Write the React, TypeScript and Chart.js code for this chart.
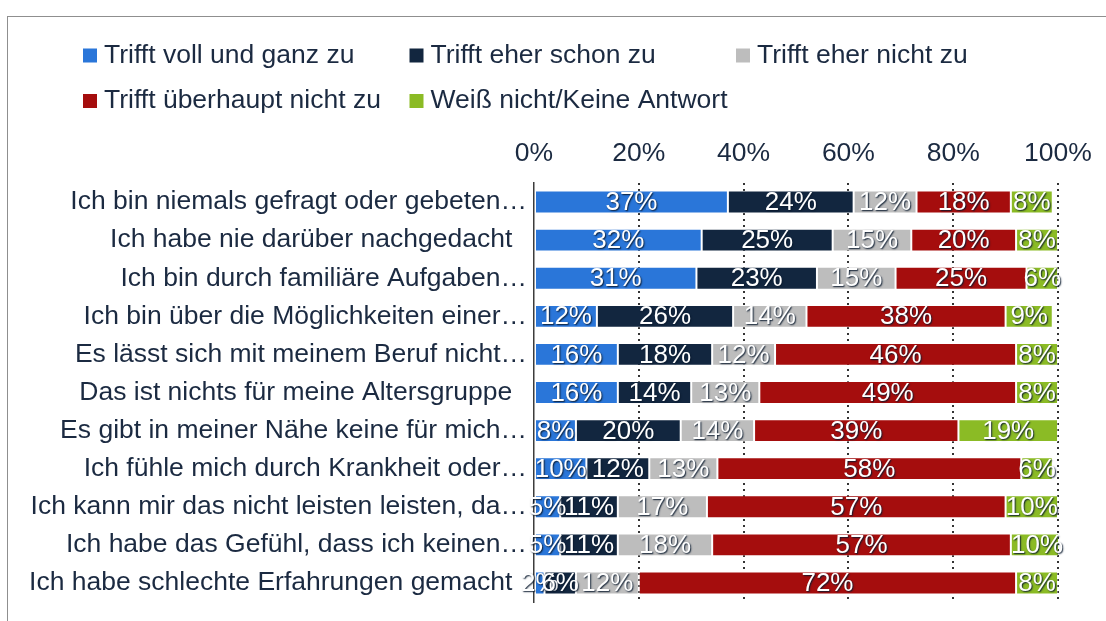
import React, { useEffect, useRef } from 'react';
import { Chart, registerables } from 'chart.js';

Chart.register(...registerables);

const categories = [
  'Ich bin niemals gefragt oder gebeten…',
  'Ich habe nie darüber nachgedacht\u00a0\u00a0',
  'Ich bin durch familiäre Aufgaben…',
  'Ich bin über die Möglichkeiten einer…',
  'Es lässt sich mit meinem Beruf nicht…',
  'Das ist nichts für meine Altersgruppe\u00a0\u00a0',
  'Es gibt in meiner Nähe keine für mich…',
  'Ich fühle mich durch Krankheit oder…',
  'Ich kann mir das nicht leisten leisten, da…',
  'Ich habe das Gefühl, dass ich keinen…',
  'Ich habe schlechte Erfahrungen gemacht\u00a0\u00a0',
];

const seriesNames = [
  'Trifft voll und ganz zu',
  'Trifft eher schon zu',
  'Trifft eher nicht zu',
  'Trifft überhaupt nicht zu',
  'Weiß nicht/Keine Antwort',
];

const fullyAgree = [37, 32, 31, 12, 16, 16, 8, 10, 5, 5, 2];
const ratherAgree = [24, 25, 23, 26, 18, 14, 20, 12, 11, 11, 6];
const ratherDisagree = [12, 15, 15, 14, 12, 13, 14, 13, 17, 18, 12];
const stronglyDisagree = [18, 20, 25, 38, 46, 49, 39, 58, 57, 57, 72];
const dontKnow = [8, 8, 6, 9, 8, 8, 19, 6, 10, 10, 8];

const xTickValues = [0, 20, 40, 60, 80, 100];

const seriesColors = ['#2A76D9', '#12263F', '#BDBDBD', '#A50D0D', '#8BBB25'];

const FONT = '"Liberation Sans", Arial, sans-serif';
const TEXT_COLOR = '#1B2A41';

const gridLegendPlugin = {
  id: 'gridLegend',
  afterDraw(chart: any, _args: any, opts: any) {
    const { ctx } = chart;
    ctx.save();
    ctx.font = `${opts.fontSize}px ${FONT}`;
    ctx.textBaseline = 'middle';
    ctx.textAlign = 'left';
    chart.data.datasets.forEach((ds: any, i: number) => {
      const col = i % opts.columns;
      const row = Math.floor(i / opts.columns);
      const x = opts.left + col * opts.colWidth;
      const y = opts.top + row * opts.rowHeight;
      ctx.fillStyle = ds.backgroundColor;
      ctx.fillRect(x, y - opts.box / 2, opts.box, opts.box);
      ctx.fillStyle = TEXT_COLOR;
      ctx.fillText(ds.label, x + opts.box + opts.gap, y);
    });
    ctx.restore();
  },
};

const barLabelPlugin = {
  id: 'barLabels',
  afterDatasetsDraw(chart: any, _args: any, opts: any) {
    const { ctx } = chart;
    ctx.save();
    ctx.font = `${opts.fontSize}px ${FONT}`;
    ctx.textAlign = 'center';
    ctx.textBaseline = 'middle';
    chart.data.datasets.forEach((ds: any, i: number) => {
      const meta = chart.getDatasetMeta(i);
      meta.data.forEach((bar: any, j: number) => {
        const v = ds.data[j];
        const { x, base, y } = bar.getProps(['x', 'base', 'y'], true);
        const cx = (x + base) / 2;
        ctx.shadowColor = 'rgba(10,25,45,0.95)';
        ctx.shadowOffsetX = 1;
        ctx.shadowOffsetY = 1;
        ctx.shadowBlur = 1.5;
        ctx.fillStyle = '#ffffff';
        ctx.fillText(`${v}%`, cx, y + 1);
      });
    });
    ctx.restore();
  },
};

export default function App() {
  const canvasRef = useRef<HTMLCanvasElement | null>(null);

  useEffect(() => {
    if (!canvasRef.current) return;
    const seriesData = [fullyAgree, ratherAgree, ratherDisagree, stronglyDisagree, dontKnow];
    const chart = new Chart(canvasRef.current, {
      type: 'bar',
      data: {
        labels: categories,
        datasets: seriesNames.map((name, i) => ({
          label: name,
          data: seriesData[i],
          backgroundColor: seriesColors[i],
          borderColor: 'rgba(255,255,255,0.35)',
          borderWidth: 1,
          borderSkipped: false,
          barPercentage: 0.6,
          categoryPercentage: 1,
        })),
      },
      options: {
        indexAxis: 'y',
        responsive: false,
        animation: false,
        layout: { padding: { top: 0, right: 48, bottom: 19, left: 0 } },
        plugins: {
          legend: { display: false },
          tooltip: { enabled: false },
          gridLegend: {
            left: 83,
            top: 55.5,
            colWidth: 326.5,
            rowHeight: 45.5,
            columns: 3,
            box: 14,
            gap: 7,
            fontSize: 26.5,
          },
          barLabels: { fontSize: 26 },
        } as any,
        scales: {
          x: {
            position: 'top',
            stacked: true,
            min: 0,
            max: 100,
            afterBuildTicks: (scale: any) => {
              scale.ticks = xTickValues.map((v) => ({ value: v }));
            },
            afterFit: (scale: any) => {
              scale.height = 183;
            },
            ticks: {
              callback: (v: any) => `${v}%`,
              font: { size: 26.5, family: FONT },
              color: TEXT_COLOR,
              padding: 13,
              maxRotation: 0,
            },
            grid: {
              drawTicks: false,
              color: (c: any) => (c.tick && c.tick.value === 0 ? 'rgba(0,0,0,0)' : '#333333'),
              lineWidth: 2,
            },
            border: { display: false, dash: [2, 4] },
          },
          y: {
            stacked: true,
            afterFit: (scale: any) => {
              scale.width = 534;
              scale.paddingTop = 0;
              scale.paddingBottom = 0;
            },
            ticks: {
              font: { size: 26.5, family: FONT },
              color: TEXT_COLOR,
              padding: 7,
              autoSkip: false,
            },
            grid: { display: false, drawTicks: false },
            border: { display: true, color: '#3c3c3c', width: 1.5 },
          },
        },
      },
      plugins: [gridLegendPlugin, barLabelPlugin],
    } as any);
    return () => chart.destroy();
  }, []);

  return (
    <div
      style={{
        position: 'fixed',
        left: 0,
        top: 0,
        width: 1106,
        height: 621,
        background: '#ffffff',
        overflow: 'hidden',
      }}
    >
      <div
        style={{
          position: 'absolute',
          left: 7,
          top: 16,
          width: 1140,
          height: 700,
          border: '1.5px solid #8f8f8f',
        }}
      />
      <canvas
        ref={canvasRef}
        width={1106}
        height={621}
        style={{ position: 'absolute', left: 0, top: 0, display: 'block' }}
      />
    </div>
  );
}
